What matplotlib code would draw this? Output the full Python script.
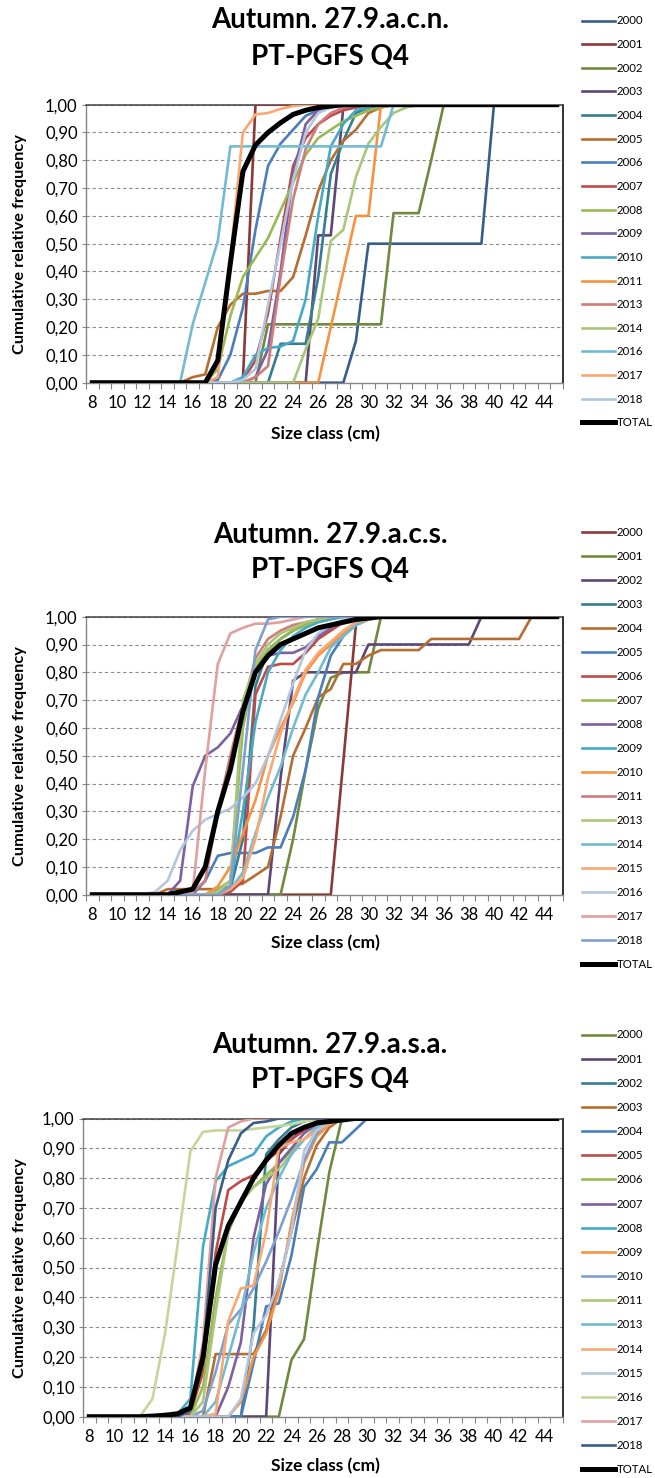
import matplotlib
matplotlib.use("Agg")
import matplotlib.pyplot as plt
from matplotlib.ticker import FixedLocator, FuncFormatter
import numpy as np

plt.rcParams["font.family"] = ["Lato", "DejaVu Sans"]

W, H = 655, 1478

# size classes (cm) on the category axis
sizes = np.arange(8, 46)
size_ticks = np.arange(8, 45, 2)

PALETTE = {
    "dk_blue": "#385D8A", "dk_red": "#8C3836", "dk_green": "#71893F",
    "dk_purple": "#5C4776", "dk_teal": "#357D91", "dk_orange": "#B66D31",
    "blue": "#4A7EBB", "red": "#BE4B48", "green": "#98B954",
    "purple": "#7D60A0", "aqua": "#46AAC5", "orange": "#F69240",
    "lt_red": "#CF7C7A", "lt_green": "#AAC67A", "lt_aqua": "#72BBD2",
    "lt_orange": "#F9A872", "pale_blue": "#B3C6E0", "pink": "#DFA09F",
    "mid_blue": "#7F9FD0", "pale_green": "#C3D69B", "total": "#000000",
}

# Each series: value 0 before `first`, values of `rise` from size class `first`
# onward, 1 after the last value of `rise`.

# ---- Autumn. 27.9.a.c.n.
acn_years = ["2000", "2001", "2002", "2003", "2004", "2005", "2006", "2007", "2008",
             "2009", "2010", "2011", "2013", "2014", "2016", "2017", "2018", "TOTAL"]
acn_colors = ["dk_blue", "dk_red", "dk_green", "dk_purple", "dk_teal", "dk_orange",
              "blue", "red", "green", "purple", "aqua", "orange",
              "lt_red", "lt_green", "lt_aqua", "lt_orange", "pale_blue", "total"]
acn_first = [28, 20, 21, 25, 22, 15, 18, 20, 17, 20, 19, 26, 20, 24, 15, 17, 19, 17]
acn_rise = [
    [0, 0.15, 0.50, 0.50, 0.50, 0.50, 0.50, 0.50, 0.50, 0.50, 0.50, 0.50, 1.0],
    [0.01, 1.0],
    [0, 0.21, 0.21, 0.21, 0.21, 0.21, 0.21, 0.21, 0.21, 0.21, 0.21, 0.61, 0.61, 0.61, 0.80, 1.0],
    [0, 0.53, 0.53, 0.99, 1.0],
    [0, 0.14, 0.14, 0.14, 0.38, 0.75, 0.87, 0.97, 0.99, 1.0],
    [0, 0.02, 0.03, 0.20, 0.28, 0.32, 0.32, 0.33, 0.33, 0.38, 0.53, 0.69, 0.80, 0.87, 0.91, 0.97, 0.99, 1.0],
    [0.01, 0.10, 0.27, 0.55, 0.78, 0.86, 0.91, 0.96, 0.98, 0.99, 1.0],
    [0.01, 0.08, 0.25, 0.52, 0.78, 0.88, 0.93, 0.96, 0.98, 0.99, 1.0],
    [0, 0.05, 0.24, 0.38, 0.45, 0.52, 0.62, 0.72, 0.82, 0.88, 0.91, 0.94, 0.96, 0.98, 0.99, 1.0],
    [0, 0.02, 0.12, 0.40, 0.75, 0.93, 0.98, 1.0],
    [0, 0.02, 0.10, 0.125, 0.13, 0.15, 0.30, 0.60, 0.85, 0.93, 0.98, 0.99, 1.0],
    [0, 0.20, 0.40, 0.60, 0.60, 1.0],
    [0, 0.02, 0.06, 0.38, 0.66, 0.84, 0.93, 0.97, 0.99, 1.0],
    [0, 0.12, 0.23, 0.51, 0.55, 0.74, 0.86, 0.92, 0.97, 0.99, 1.0],
    [0, 0.21, 0.36, 0.51, 0.85, 0.85, 0.85, 0.85, 0.85, 0.85, 0.85, 0.85, 0.85, 0.85, 0.85, 0.85, 0.85, 1.0],
    [0, 0.02, 0.45, 0.90, 0.965, 0.97, 0.985, 0.995, 1.0],
    [0, 0.01, 0.05, 0.28, 0.50, 0.73, 0.90, 0.97, 0.99, 1.0],
    [0, 0.08, 0.43, 0.76, 0.855, 0.90, 0.935, 0.965, 0.98, 0.99, 0.995, 1.0],
]

# ---- Autumn. 27.9.a.c.s.
acs_years = ["2000", "2001", "2002", "2003", "2004", "2005", "2006", "2007", "2008",
             "2009", "2010", "2011", "2013", "2014", "2015", "2016", "2017", "2018", "TOTAL"]
acs_colors = ["dk_red", "dk_green", "dk_purple", "dk_teal", "dk_orange", "blue",
              "red", "green", "purple", "aqua", "orange", "lt_red",
              "lt_green", "lt_aqua", "lt_orange", "pale_blue", "pink", "mid_blue", "total"]
acs_first = [27, 23, 22, 19, 13, 16, 19, 18, 14, 18, 17, 16, 18, 18, 18, 12, 16, 18, 14]
acs_rise = [
    [0, 0.48, 0.97, 1.0],
    [0, 0.20, 0.45, 0.67, 0.78, 0.80, 0.80, 0.80, 1.0],
    [0, 0.42, 0.77, 0.80, 0.80, 0.80, 0.80, 0.80, 0.90, 0.90, 0.90, 0.90, 0.90, 0.90, 0.90, 0.90, 0.90, 1.0],
    [0.02, 0.20, 0.75, 0.88, 0.92, 0.95, 0.97, 0.99, 1.0],
    [0, 0.02, 0.02, 0.02, 0.02, 0.02, 0.03, 0.04, 0.07, 0.10, 0.28, 0.50, 0.60, 0.71, 0.74, 0.83,
     0.83, 0.86, 0.88, 0.88, 0.88, 0.88, 0.92, 0.92, 0.92, 0.92, 0.92, 0.92, 0.92, 0.92, 1.0],
    [0, 0.05, 0.14, 0.15, 0.15, 0.15, 0.17, 0.17, 0.28, 0.45, 0.71, 0.86, 0.93, 0.97, 0.99, 1.0],
    [0.01, 0.05, 0.72, 0.82, 0.83, 0.83, 0.87, 0.92, 0.95, 0.98, 0.99, 1.0],
    [0.02, 0.05, 0.60, 0.82, 0.88, 0.92, 0.95, 0.97, 0.99, 1.0],
    [0, 0.05, 0.39, 0.50, 0.53, 0.58, 0.68, 0.80, 0.86, 0.87, 0.87, 0.89, 0.93, 0.96, 0.99, 1.0],
    [0.01, 0.03, 0.30, 0.62, 0.80, 0.88, 0.93, 0.96, 0.98, 0.99, 1.0],
    [0, 0.03, 0.10, 0.22, 0.34, 0.50, 0.60, 0.69, 0.80, 0.86, 0.90, 0.94, 0.97, 0.99, 1.0],
    [0.01, 0.05, 0.30, 0.50, 0.68, 0.85, 0.92, 0.95, 0.97, 0.98, 0.99, 1.0],
    [0.01, 0.05, 0.70, 0.83, 0.90, 0.94, 0.96, 0.98, 0.99, 1.0],
    [0, 0.02, 0.08, 0.22, 0.35, 0.46, 0.60, 0.72, 0.80, 0.89, 0.93, 0.97, 0.99, 1.0],
    [0, 0.02, 0.06, 0.20, 0.42, 0.58, 0.70, 0.81, 0.87, 0.91, 0.95, 0.98, 0.99, 1.0],
    [0, 0.01, 0.05, 0.16, 0.23, 0.27, 0.29, 0.31, 0.35, 0.40, 0.50, 0.63, 0.76, 0.88, 0.94, 0.97, 0.99, 1.0],
    [0.01, 0.45, 0.83, 0.94, 0.96, 0.975, 0.975, 0.98, 0.99, 1.0],
    [0, 0.03, 0.45, 0.88, 0.99, 1.0],
    [0, 0.01, 0.02, 0.10, 0.30, 0.45, 0.66, 0.80, 0.86, 0.90, 0.92, 0.94, 0.96, 0.97, 0.98, 0.99, 0.995, 1.0],
]

# ---- Autumn. 27.9.a.s.a.
asa_years = ["2000", "2001", "2002", "2003", "2004", "2005", "2006", "2007", "2008",
             "2009", "2010", "2011", "2013", "2014", "2015", "2016", "2017", "2018", "TOTAL"]
asa_colors = ["dk_green", "dk_purple", "dk_teal", "dk_orange", "blue", "red",
              "green", "purple", "aqua", "orange", "mid_blue", "lt_green",
              "lt_aqua", "lt_orange", "pale_blue", "pale_green", "pink", "dk_blue", "total"]
asa_first = [23, 22, 20, 17, 20, 15, 16, 18, 15, 19, 16, 16, 17, 17, 19, 12, 15, 15, 12]
asa_rise = [
    [0, 0.19, 0.26, 0.55, 0.82, 1.0],
    [0, 0.88, 0.93, 0.97, 0.99, 1.0],
    [0, 0.30, 0.88, 0.93, 0.97, 0.99, 1.0],
    [0, 0.21, 0.21, 0.21, 0.21, 0.29, 0.45, 0.62, 0.80, 0.91, 0.97, 1.0],
    [0, 0.18, 0.37, 0.38, 0.54, 0.77, 0.83, 0.92, 0.92, 0.96, 1.0],
    [0, 0.01, 0.15, 0.55, 0.76, 0.79, 0.81, 0.86, 0.89, 0.93, 0.96, 0.98, 0.99, 1.0],
    [0, 0.10, 0.40, 0.62, 0.72, 0.77, 0.81, 0.85, 0.89, 0.93, 0.96, 0.99, 1.0],
    [0, 0.10, 0.25, 0.60, 0.78, 0.85, 0.90, 0.95, 0.98, 1.0],
    [0.01, 0.06, 0.57, 0.79, 0.84, 0.86, 0.88, 0.94, 0.97, 0.99, 1.0],
    [0, 0.05, 0.20, 0.28, 0.42, 0.65, 0.85, 0.94, 0.98, 1.0],
    [0, 0.02, 0.15, 0.31, 0.36, 0.43, 0.52, 0.62, 0.73, 0.86, 0.95, 0.99, 1.0],
    [0, 0.05, 0.35, 0.62, 0.73, 0.77, 0.80, 0.83, 0.88, 0.93, 0.97, 0.99, 1.0],
    [0, 0.05, 0.20, 0.35, 0.55, 0.70, 0.80, 0.88, 0.93, 0.97, 0.99, 1.0],
    [0, 0.01, 0.32, 0.43, 0.44, 0.62, 0.90, 0.92, 0.93, 0.96, 0.98, 1.0],
    [0, 0.06, 0.28, 0.34, 0.45, 0.62, 0.89, 0.96, 0.99, 1.0],
    [0, 0.06, 0.28, 0.58, 0.89, 0.955, 0.96, 0.96, 0.96, 0.965, 0.97, 0.975, 0.98, 0.99, 1.0],
    [0, 0.02, 0.25, 0.80, 0.97, 0.99, 1.0],
    [0, 0.02, 0.20, 0.70, 0.86, 0.95, 0.985, 0.99, 1.0],
    [0, 0.002, 0.005, 0.01, 0.03, 0.20, 0.51, 0.64, 0.72, 0.80, 0.86, 0.91, 0.95, 0.97, 0.985, 0.99, 0.995, 1.0],
]


def full_curve(first, rise):
    y = np.ones(len(sizes))
    y[sizes < first] = 0.0
    i = first - sizes[0]
    y[i:i + len(rise)] = rise
    return y


def px_rect(left, top, right, bottom):
    return [left / W, 1 - bottom / H, (right - left) / W, (bottom - top) / H]


def draw_panel(fig, rect, region, years, colors, first, rise,
               title_y, xlabel_y, legend_top, legend_spacing):
    ax = fig.add_axes(rect)
    lines = []
    for year, c, f, r in zip(years, colors, first, rise):
        is_total = year == "TOTAL"
        (ln,) = ax.plot(sizes, full_curve(f, r), color=PALETTE[c],
                        lw=3.6 if is_total else 1.9,
                        zorder=4 if is_total else 3, solid_joinstyle="round")
        lines.append(ln)

    ax.set_xlim(7.5, 45.5)
    ax.set_ylim(0, 1)
    ax.xaxis.set_major_locator(FixedLocator(size_ticks))
    ax.xaxis.set_minor_locator(FixedLocator(np.arange(7.5, 46, 1)))
    ax.set_xticklabels([str(s) for s in size_ticks])
    ax.set_yticks(np.arange(0, 1.01, 0.1))
    ax.yaxis.set_major_formatter(FuncFormatter(lambda v, _: f"{v:.2f}".replace(".", ",")))
    ax.tick_params(axis="x", which="major", length=0, pad=9, labelsize=12)
    ax.tick_params(axis="x", which="minor", length=4, width=0.8, color="#868686")
    ax.tick_params(axis="y", length=3, width=0.8, color="#868686", pad=3, labelsize=12)
    ax.grid(axis="y", color="#8c8c8c", linewidth=0.8, linestyle=(0, (3, 2.5)))
    ax.set_axisbelow(True)
    for side in ("left", "bottom"):
        ax.spines[side].set_color("#868686")
        ax.spines[side].set_linewidth(1.0)
    ax.spines["right"].set_color("#222222")
    ax.spines["right"].set_linewidth(1.3)
    ax.spines["top"].set_color("#404040")
    ax.spines["top"].set_linewidth(1.1)

    fig.text(330 / W, 1 - title_y[0] / H, f"Autumn. {region}", ha="center", va="center",
             fontsize=20, fontweight="bold")
    fig.text(330 / W, 1 - title_y[1] / H, "PT-PGFS Q4", ha="center", va="center",
             fontsize=20, fontweight="bold")
    fig.text(325 / W, 1 - xlabel_y / H, "Size class (cm)", ha="center", va="center",
             fontsize=12.5, fontweight="bold")
    ymid = rect[1] + rect[3] / 2
    fig.text(20 / W, ymid, "Cumulative relative frequency", rotation=90,
             ha="center", va="center", fontsize=11.8, fontweight="bold")

    fig.legend(lines, years, loc="upper left",
               bbox_to_anchor=(582 / W, 1 - legend_top / H), bbox_transform=fig.transFigure,
               frameon=False, fontsize=8.2, handlelength=2.9, handletextpad=0.15,
               labelspacing=legend_spacing, borderpad=0, borderaxespad=0)
    return ax


fig = plt.figure(figsize=(W / 100, H / 100), dpi=100)

draw_panel(fig, px_rect(86, 104.7, 563, 382.7), "27.9.a.c.n.",
           acn_years, acn_colors, acn_first, acn_rise,
           (20, 57), 434, 15.5, 1.11)
draw_panel(fig, px_rect(86, 616.7, 563, 894.7), "27.9.a.c.s.",
           acs_years, acs_colors, acs_first, acs_rise,
           (535, 570), 943, 527, 1.14)
draw_panel(fig, px_rect(83, 1118.5, 563, 1416.7), "27.9.a.s.a.",
           asa_years, asa_colors, asa_first, asa_rise,
           (1045, 1080), 1466, 1029.5, 1.155)

fig.savefig("out.png", dpi=100)
